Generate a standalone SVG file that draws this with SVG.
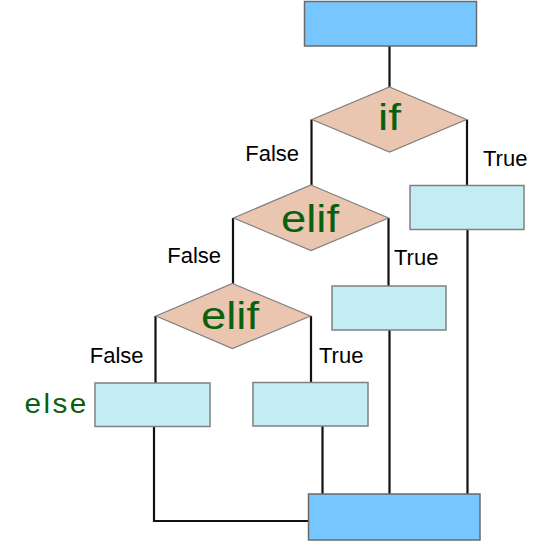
<svg xmlns="http://www.w3.org/2000/svg" width="560" height="541" viewBox="0 0 560 541">
<style>
.term{fill:#77c6ff;stroke:#6a6a6a;stroke-width:1.5}
.proc{fill:#c3edf2;stroke:#808080;stroke-width:1.5}
.dec{fill:#eac5b0;stroke:#808080;stroke-width:1.2}
.kw{font-family:"Liberation Sans",Arial,sans-serif;fill:#0b610b}
.lbl{font-family:"Liberation Sans",Arial,sans-serif;font-size:22px;fill:#000}
.conn{fill:none;stroke:#111;stroke-width:2.2}
</style>
<rect width="560" height="541" fill="#fff"/>
<g id="connectors">
<path class="conn" d="M389.5,46 V87"/>
<path class="conn" d="M311.5,119.5 V185"/>
<path class="conn" d="M467,119.5 V185"/>
<path class="conn" d="M233,218 V284"/>
<path class="conn" d="M388.5,218 V286"/>
<path class="conn" d="M155.5,316 V383"/>
<path class="conn" d="M311,316 V382"/>
<path class="conn" d="M154,427 V521 H308"/>
<path class="conn" d="M322.5,426 V494"/>
<path class="conn" d="M389.5,330 V494"/>
<path class="conn" d="M467.5,229 V494"/>
</g>
<g id="start"><rect class="term" x="304.5" y="1.5" width="172" height="44.5"/></g>
<g id="if">
<polygon class="dec" points="389.5,87 466.5,119.5 389.5,152 312,119.5"/>
<text class="kw" x="378" y="130" font-size="37" textLength="23" lengthAdjust="spacingAndGlyphs">if</text>
</g>
<g id="if-true"><rect class="proc" x="410" y="185.5" width="114" height="44"/></g>
<g id="elif1">
<polygon class="dec" points="311,185 388.5,218 311,250.5 233.5,218"/>
<text class="kw" x="281" y="231.5" font-size="38" textLength="58" lengthAdjust="spacingAndGlyphs">elif</text>
</g>
<g id="elif1-true"><rect class="proc" x="332" y="286" width="114" height="44"/></g>
<g id="elif2">
<polygon class="dec" points="232.5,283.5 310.5,316 232.5,348.5 156,316"/>
<text class="kw" x="201" y="329.3" font-size="38" textLength="58" lengthAdjust="spacingAndGlyphs">elif</text>
</g>
<g id="elif2-true"><rect class="proc" x="253" y="382.5" width="115" height="43.5"/></g>
<g id="else">
<rect class="proc" x="95" y="383" width="115" height="43.5"/>
<text class="kw" transform="translate(24.5,413.3) scale(1.1,1)" x="0" y="0" font-size="27" letter-spacing="2.2">else</text>
</g>
<g id="end"><rect class="term" x="308.5" y="494" width="171.5" height="46"/></g>
<g id="labels">
<text class="lbl" x="299" y="161" text-anchor="end">False</text>
<text class="lbl" x="483" y="166">True</text>
<text class="lbl" x="221" y="262.5" text-anchor="end">False</text>
<text class="lbl" x="394" y="265">True</text>
<text class="lbl" x="143.5" y="362.7" text-anchor="end">False</text>
<text class="lbl" x="319" y="363.3">True</text>
</g>
</svg>
